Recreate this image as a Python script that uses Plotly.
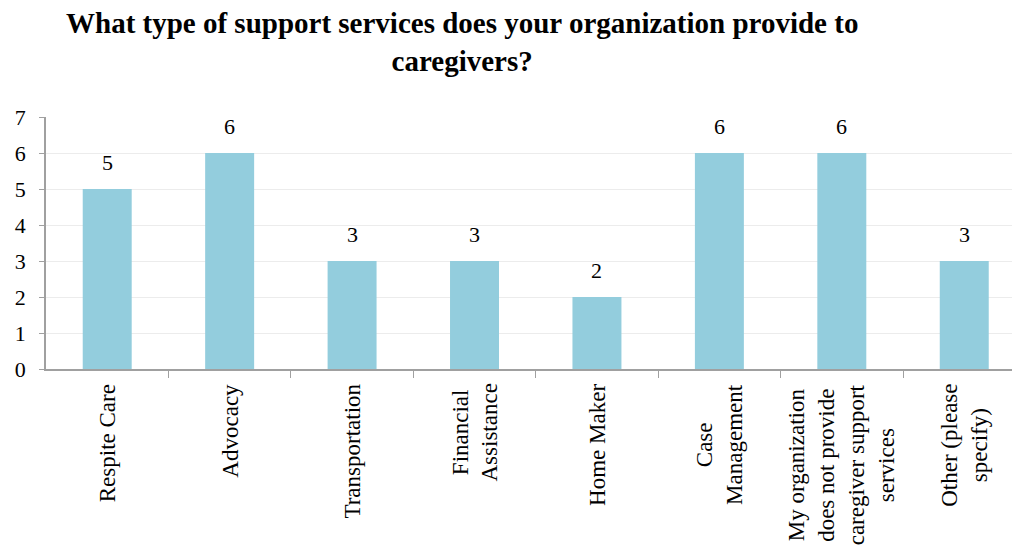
import plotly.graph_objects as go

categories = [
    "Respite Care",
    "Advocacy",
    "Transportation",
    "Financial<br>Assistance",
    "Home Maker",
    "Case<br>Management",
    "My organization<br>does not provide<br>caregiver support<br>services",
    "Other (please<br>specify)",
]
counts = [5, 6, 3, 3, 2, 6, 6, 3]
y_ticks = [0, 1, 2, 3, 4, 5, 6, 7]

serif = "Times New Roman, Liberation Serif, serif"
bar_color = "#93CDDD"

fig = go.Figure()
fig.add_trace(go.Bar(
    x=list(range(len(categories))),
    y=counts,
    width=0.4,
    marker=dict(color=bar_color, line=dict(width=0)),
    cliponaxis=False,
))

# value labels sit a bit higher than plotly's "outside" text
for i, v in enumerate(counts):
    fig.add_annotation(
        x=i, y=v, xref="x", yref="y", text=str(v), showarrow=False,
        xanchor="center", yanchor="bottom", yshift=12,
        font=dict(family=serif, size=22, color="#000000"),
    )

# category labels, rotated and centred like the original
for i, label in enumerate(categories):
    fig.add_annotation(
        x=i, y=0, xref="x", yref="paper",
        text=label, textangle=-90, showarrow=False,
        xanchor="center", yanchor="top", yshift=-13, align="center",
        font=dict(family=serif, size=23, color="#000000"),
    )

fig.add_annotation(
    x=0.431, y=1, xref="paper", yref="paper", yshift=117 - 5,
    text="<b>What type of support services does your organization provide to<br>caregivers?</b>",
    showarrow=False, xanchor="center", yanchor="top", align="center",
    font=dict(family=serif, size=29, color="#000000"),
)

fig.update_layout(
    width=1012, height=548,
    margin=dict(l=46, r=0, t=117, b=179),
    paper_bgcolor="white", plot_bgcolor="white",
    showlegend=False,
    bargap=0.6,
)
fig.update_xaxes(
    range=[-0.5, 7.39],
    tickvals=[i - 0.5 for i in range(1, len(categories))],
    ticktext=["" for _ in range(1, len(categories))],
    ticks="outside", ticklen=7, tickcolor="#a0a0a0",
    showline=True, linecolor="#a0a0a0", linewidth=1.5,
    showgrid=False, zeroline=False,
)
fig.update_yaxes(
    range=[0, 7], tickvals=y_ticks,
    ticks="outside", ticklen=5, tickcolor="#a0a0a0",
    showline=True, linecolor="#a0a0a0", linewidth=1.5,
    showgrid=True, gridcolor="#ececec", zeroline=False,
    ticklabelstandoff=9,
    tickfont=dict(family=serif, size=22, color="#000000"),
)

fig.write_html("out.html", config={"displayModeBar": False},
               post_script="document.body.style.margin='0';")
